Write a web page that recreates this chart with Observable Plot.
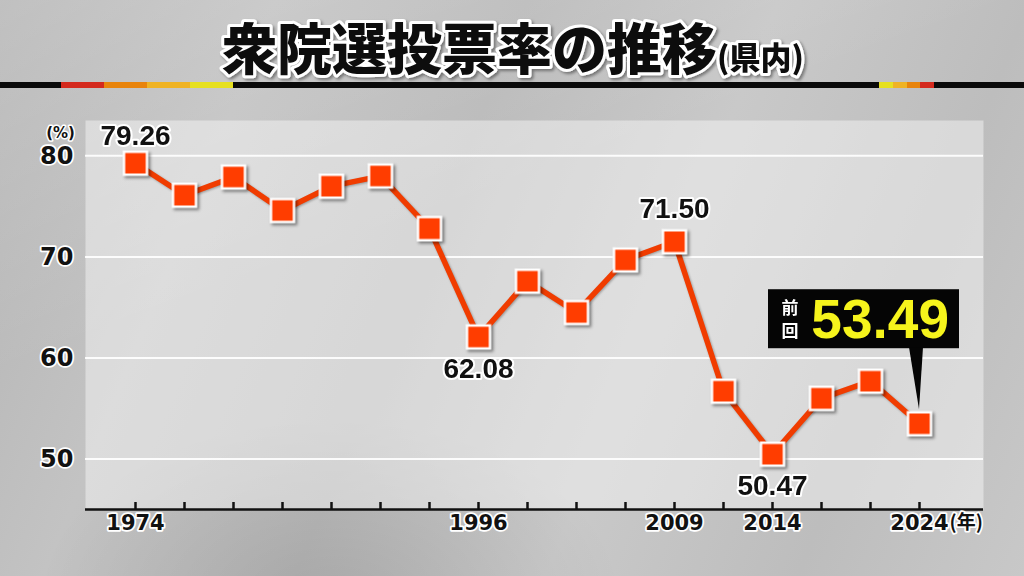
<!DOCTYPE html>
<html><head><meta charset="utf-8">
<script src="https://cdn.jsdelivr.net/npm/d3@7"></script>
<script src="https://cdn.jsdelivr.net/npm/@observablehq/plot@0.6"></script>
<style>
html,body{margin:0;padding:0;background:#bbb;}
#wrap{position:relative;width:1024px;height:576px;overflow:hidden;
 background:
  radial-gradient(ellipse 420px 260px at 330px 600px, rgba(0,0,0,0.10), rgba(0,0,0,0) 70%),
  linear-gradient(160deg, rgba(255,255,255,0.18) 0%, rgba(255,255,255,0) 40%),
  linear-gradient(112deg, #b3b3b3 0%, #c3c3c3 22%, #bababa 42%, #c9c9c9 62%, #bdbdbd 82%, #c8c8c8 100%);}
#title{position:absolute;left:0;top:0;}
#chart{position:absolute;left:0;top:0;}
.seg{position:absolute;top:82px;height:6px;}
g[aria-label="dot"]{filter:drop-shadow(2px 2px 1.5px rgba(0,0,0,0.45));}
g[aria-label="line"]{filter:drop-shadow(1px 1px 1px rgba(0,0,0,0.3));}
</style></head><body>
<div id="wrap">
 <div class="seg" style="left:0;width:1024px;background:#0a0a0a"></div>
 <div class="seg" style="left:61px;width:43px;background:#d42a1e"></div>
 <div class="seg" style="left:104px;width:43px;background:#e8840c"></div>
 <div class="seg" style="left:147px;width:43px;background:#efb324"></div>
 <div class="seg" style="left:190px;width:43px;background:#e6e020"></div>
 <div class="seg" style="left:879px;width:14px;background:#e6e020"></div>
 <div class="seg" style="left:893px;width:14px;background:#efb324"></div>
 <div class="seg" style="left:907px;width:13px;background:#e8840c"></div>
 <div class="seg" style="left:920px;width:14px;background:#d42a1e"></div>
 <svg id="title" width="1024" height="100">
  <defs><filter id="ts" x="-5%" y="-20%" width="110%" height="140%"><feDropShadow dx="2" dy="2" stdDeviation="1.5" flood-opacity="0.4"/></filter></defs>
  <text x="513" y="69" text-anchor="middle" font-family="Noto Sans CJK JP" font-weight="900" fill="#0a0a0a" stroke="white" stroke-width="6" stroke-linejoin="round" paint-order="stroke" filter="url(#ts)"><tspan font-size="55">衆院選投票率の推移</tspan><tspan font-size="31">(県内)</tspan></text>
 </svg>
 <div id="chart"></div>
</div>
<script>
const years = ["1974","1979","1980","1983","1986","1990","1993","1996","2000","2003","2005","2009","2012","2014","2017","2021","2024"];
const values = [79.26, 76.1, 77.9, 74.6, 77.0, 78.0, 72.8, 62.08, 67.6, 64.5, 69.7, 71.50, 56.7, 50.47, 56.0, 57.7, 53.49];
const tickLabels = ["1974","1996","2009","2014","2024"];
const yTicks = [50, 60, 70, 80];
const firstLabelYear = ["1974"];
const aboveYears = ["2009"];
const belowYears = ["1996","2014"];
const calloutYear = "2024";
const calloutPrefix = ["前","回"];
const yUnit = "(%)";
const xUnit = "(年)";

const data = years.map((year, i) => ({year, value: values[i]}));
const pick = (ys) => data.filter(d => ys.includes(d.year));

const numFont = "Liberation Sans, Arial, sans-serif";
const axisFont = "DejaVu Sans, sans-serif";
const cjkFont = "Noto Sans CJK JP, sans-serif";

function callout(index, scales) {
  const i = years.indexOf(calloutYear);
  const px = scales.x(calloutYear), py = scales.y(values[i]);
  const g = d3.create("svg:g");
  g.append("rect").attr("x", px - 151).attr("y", py - 134).attr("width", 191).attr("height", 59).attr("fill", "#050505");
  g.append("path").attr("d", `M${px-10},${py-76}L${px+4},${py-76}L${px},${py-14}Z`).attr("fill", "#050505");
  g.append("text").attr("x", px + 30).attr("y", py - 85).attr("text-anchor", "end")
    .attr("font-family", numFont).attr("font-weight", "bold").attr("font-size", 55)
    .attr("fill", "#f6f41c").text(values[i].toFixed(2));
  calloutPrefix.forEach((c, k) => {
    g.append("text").attr("x", px - 129).attr("y", py - 109 + k * 23).attr("text-anchor", "middle")
      .attr("font-family", cjkFont).attr("font-weight", "bold").attr("font-size", 17)
      .attr("fill", "white").text(c);
  });
  return g.node();
}

const labelStyle = {fontSize: 28, fontWeight: "bold", fontFamily: numFont, fill: "#111", stroke: "white", strokeWidth: 4, strokeLinejoin: "round"};

const chart = Plot.plot({
  width: 1024, height: 576,
  marginLeft: 85, marginRight: 41, marginTop: 120, marginBottom: 67,
  style: {background: "transparent", overflow: "visible"},
  x: {type: "point", domain: years, range: [131, 922], padding: 0, axis: null},
  y: {domain: [45, 83.5], axis: null},
  marks: [
    Plot.frame({fill: "white", fillOpacity: 0.42, stroke: null}),
    Plot.gridY(yTicks, {stroke: "white", strokeOpacity: 0.9, strokeWidth: 2}),
    Plot.tickX(years, {x: d => d, insetTop: 382, stroke: "#111", strokeWidth: 2.5}),
    Plot.ruleY([45], {stroke: "#111", strokeWidth: 2.5}),
    Plot.text(yTicks, {y: d => d, frameAnchor: "left", dx: -12, textAnchor: "end", text: d => String(d),
      fontSize: 24, fontWeight: "bold", fontFamily: axisFont, fill: "#111", stroke: "white", strokeWidth: 3.5, strokeLinejoin: "round"}),
    Plot.text([yUnit], {frameAnchor: "top-left", dx: -25, dy: 7, textAnchor: "middle", text: d => d,
      fontSize: 15, fontWeight: "bold", fontFamily: axisFont, fill: "#111", stroke: "white", strokeWidth: 3, strokeLinejoin: "round"}),
    Plot.text(tickLabels, {x: d => d, frameAnchor: "bottom", dy: 20, text: d => d,
      fontSize: 21, fontWeight: "bold", fontFamily: axisFont, fill: "#111", stroke: "white", strokeWidth: 3.5, strokeLinejoin: "round"}),
    Plot.text([calloutYear], {x: d => d, frameAnchor: "bottom", dy: 19, dx: 30, textAnchor: "start", text: () => xUnit,
      fontSize: 19, fontWeight: "bold", fontFamily: cjkFont, fill: "#111", stroke: "white", strokeWidth: 3.5, strokeLinejoin: "round"}),
    Plot.line(data, {x: "year", y: "value", stroke: "#f03c00", strokeWidth: 5.5}),
    Plot.dot(data, {x: "year", y: "value", symbol: "square", r: 13, fill: "#ff3d00", stroke: "white", strokeWidth: 2.5}),
    Plot.text(pick(firstLabelYear), {x: "year", y: "value", dy: -27, text: d => d.value.toFixed(2), ...labelStyle}),
    Plot.text(pick(aboveYears), {x: "year", y: "value", dy: -33, text: d => d.value.toFixed(2), ...labelStyle}),
    Plot.text(pick(belowYears), {x: "year", y: "value", dy: 32, text: d => d.value.toFixed(2), ...labelStyle}),
    callout
  ]
});
document.getElementById("chart").appendChild(chart);
</script>
</body></html>
